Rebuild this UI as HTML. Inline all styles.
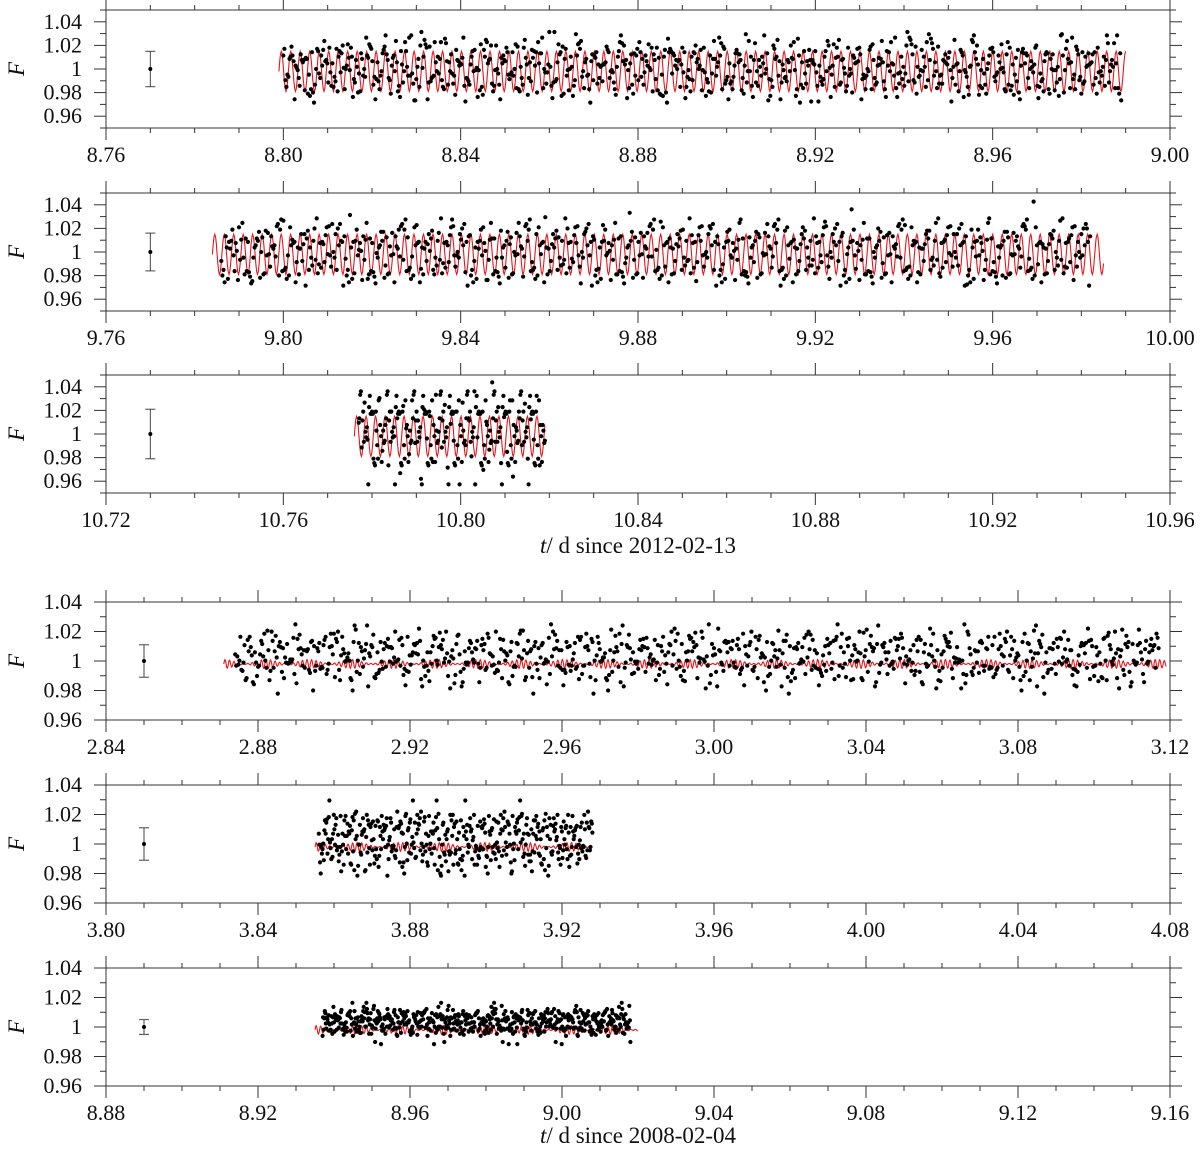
<!DOCTYPE html>
<html><head><meta charset="utf-8"><style>
html,body{margin:0;padding:0;background:#fff}
svg{display:block}
svg text{font-family:"Liberation Serif","Times New Roman",serif}
</style></head><body>
<svg id="fig" width="1200" height="1161" viewBox="0 0 1200 1161"></svg>
<script>
// ---- data ----
const xStarts = [8.76, 9.76, 10.72, 2.84, 3.80, 8.88];
const xTickLabels = [
 ["8.76","8.80","8.84","8.88","8.92","8.96","9.00"],
 ["9.76","9.80","9.84","9.88","9.92","9.96","10.00"],
 ["10.72","10.76","10.80","10.84","10.88","10.92","10.96"],
 ["2.84","2.88","2.92","2.96","3.00","3.04","3.08","3.12"],
 ["3.80","3.84","3.88","3.92","3.96","4.00","4.04","4.08"],
 ["8.88","8.92","8.96","9.00","9.04","9.08","9.12","9.16"]];
const yTickLabels = ["0.96","0.98","1","1.02","1.04"];
const dataStart = [8.800, 9.786, 10.777, 2.874, 3.856, 8.937];
const dataEnd   = [8.989, 9.982, 10.819, 3.117, 3.928, 9.018];
const modelStart = [8.799, 9.784, 10.776, 2.871, 3.855, 8.935];
const modelEnd   = [8.990, 9.985, 10.819, 3.119, 3.928, 9.020];
const modelAmp = [0.017, 0.017, 0.017, 0.003, 0.003, 0.003];
const modelPeriod = [0.00214, 0.00214, 0.00214, 0.0012, 0.0012, 0.0012];
const modelCenter = [0.998, 0.998, 0.998, 0.998, 0.998, 0.998];
const errX = [8.77, 9.77, 10.73, 2.85, 3.81, 8.89];
const errHalf = [0.015, 0.016, 0.021, 0.011, 0.011, 0.005];
const fluxBase = [1.0, 1.0, 1.0, 1.001, 1.001, 1.001];
const devScale = [0.95, 0.95, 0.95, 0.7, 0.75, 0.7];
// flux deviations from 1 in units of 0.001
const flux1 = [12,-5,20,3,-15,8,-22,15,0,-8,25,-12,5,18,-3,-18,10,-25,2,14,-7,22,-14,6,-2,30,-10,12,-20,4,16,-6,-28,9,1,19,-11,24,-4,-16,7,13,-23,3,28,-9,11,-1,-19,17,5,-13,21,-27,8,-5,15,-17,2,26,-8,10,-21,14,-3,33,-12,6,-24,18,0,-15,22,-7,9,-30,12,4,-11,20,-2,-18,16,7,-26,13,-6,24,-14,3,19,-9,-22,11,27,-4,8,-16,15,-1,-10,6,17,-3,-20,9,2,23,-13,5,-7,14,-19,31,-2,8,-15,11,0,-24,18,-6,4,-11,21,-1,12,-17,7,-29,16,3,-9,25,-5,10,-14,1,19,-21,6,13,-8,-2,22,-12,9,-18,15,4,-25,11,-4,28,-10,2,17,-16,8,-6,20,-13,5,-1,26,-20,12,-7,3,15,-23,9,0,18,-11,6,-3,24,-15,10,-27,14,-8,2,21,-4,7,-18,13,-12,30,-1,5,-9,17,-22,11,4,-14,19,-6,8,-2,23,-17];
const flux2 = [-8,14,3,-17,22,-5,9,-26,12,0,19,-13,6,-21,28,-3,11,-9,16,-30,4,21,-11,7,-2,25,-16,10,-6,33,-19,2,14,-24,8,-1,18,-12,5,-27,20,-7,13,-4,24,-15,9,1,-20,17,-10,6,29,-3,11,-18,15,-8,3,22,-25,12,-5,19,-14,7,0,26,-22,10,-9,16,-2,31,-17,4,13,-11,21,-6,8,-28,18,-3,11,-15,24,-1,6,-20,14,-10,35,-7,9,-23,17,-4,2,27,-13,12,-19,5,20,-8,15,-26,10,-2,23,-16,7,-11,18,-5,3,29,-21,13,-9,16,-1,25,-14,8,-30,19,-6,11,-17,22,4,-12,14,-3,27,-24,9,-8,17,-2,38,-15,6,-20,12,0,21,-10,15,-27,7,-5,24,-13,10,-18,3,19,-7,26,-22,11,-1,16,-12,8,-29,20,-4,13,-16,30,-9,5,-21,18,-2,10,-14,23,-6,45,-11,7,-19,15,0,28,-13,12,-25,9,-3,21];
const flux3 = [10,-12,28,-5,18,-22,3,32,-15,8,-28,20,-2,14,-35,25,5,-18,30,-8,12,-40,22,-4,16,-25,35,2,-12,26,-30,9,-6,20,-45,28,-10,14,-20,38,-3,18,-32,11,-14,46,-7,24,-26,15,-16,30,-38,6,20,-10,27,-22,13,-5,34,-28,8];
const flux4 = [5,22,-20,12,-3,18,-8,27,2,-12,15,0,20,-6,10,-30,8,14,-4,25,-10,6,-1,33,-14,9,3,-18,17,-7,12,-2,21,-11,4,16,-26,7,13,-5,19,-16,1,24,-9,11,-3,-22,15,6,-13,20,-1,8,-7,28,-17,10,-4,14,-24,3,18,-10,12,0,22,-6,9,-33,16,2,-15,7,25,-8,11,-2,19,-12,5,-20,13,-4,27,-9,15,-1,8,-18,21,-6,4,30,-11,17,-3,10,-25,14,-7,23,2,-14,9,-5,18,-21,12,0,24,-10,6,-16,20,-3,34,-8,13,-19,7,26,-2,11,-13,16,-6,21,1,-23,9,-11,19,-4,14,-28,5,17,-9,12,-1,27,-15,8,-6,22,-17,10,3,-12,18,-7,25,-20,6,15,-3,11,-14,20,-2,9,-26,16,-8,13,4,-18,23,-5,10,-10,17,-1,29,-22,7,14];
const flux5 = [8,-10,20,3,-15,12,-4,24,-20,6,15,-8,28,-2,10,-25,16,2,-12,19,-6,11,-30,22,-3,14,-18,8,26,-9,5,-14,17,-1,23,-21,10,-5,13,-28,18,3,-11,25,-7,9,-16,38,-2,12,-20,15,-4,21,-13,7,-9,19,-22,11,0,16,-26,14,-6,24,-10,8,-17,20,3,-12,13,-5,22,-8,17,-15,10,-2,25,-11,6,-19,14,-4,18,-7];
const flux6 = [-10,12,3,-4,18,6,-2,15,1,-6,9,22,-3,8,4,14,-1,7,-8,19,2,11,-5,6,16,0,-4,10,3,-7,13,1,5,-3,9,-9,4,12,-2,7,-5,3,11,-1,6,-16,8,2,-4,10,5,-2,14,1,-6,8,3,12,-3,6,-8,9,2,-1,16,4,-5,11,7,-2,13,3,-18,8,5,-4,10,1,12,-3,7,2,-6,14,4,-1,9,6,-3,11,-10,5,8,-2,13,3,-5,7,10,-1,6,-9,12,2,4,-4,9,15,-2,7,1,-7,11,3];
const fluxAll = [flux1, flux2, flux3, flux4, flux5, flux6];
const passes = [4, 4, 4, 5, 5, 5];

// ---- layout ----
const panelTop = [10, 193, 375, 602, 785, 968];
const panelH = 118;
const L = 106, R = 1170;
const FONT = '"Liberation Serif", "Times New Roman", serif';
const svg = document.getElementById('fig');
const NS = 'http://www.w3.org/2000/svg';
function mk(tag, attrs, parent) {
  const e = document.createElementNS(NS, tag);
  for (const k in attrs) e.setAttribute(k, attrs[k]);
  (parent || svg).appendChild(e);
  return e;
}
for (let p = 0; p < 6; p++) {
  const g = mk('g', {});
  
  
  const top = panelTop[p], bot = top + panelH;
  const upper = p < 3;
  const yMin = upper ? 0.95 : 0.96, yMax = upper ? 1.05 : 1.04;
  const x0 = xStarts[p], x1 = x0 + 0.24 + (upper ? 0 : 0.04);
  const sx = v => L + (v - x0) / (x1 - x0) * (R - L);
  const sy = v => bot - (v - yMin) / (yMax - yMin) * panelH;
  const ax = mk('g', {stroke: '#333', 'stroke-width': 1, fill: 'none'}, g);
  
  
  mk('rect', {x: L, y: top, width: R - L, height: panelH}, ax);
  const nMinor = Math.round((x1 - x0) / 0.01);
  for (let i = 0; i <= nMinor; i++) {
    const x = L + i / nMinor * (R - L);
    const major = i % 4 === 0;
    const len = major ? 12 : 5;
    mk('line', {x1: x, x2: x, y1: bot, y2: bot + len}, ax);
    mk('line', {x1: x, x2: x, y1: top, y2: top - len}, ax);
  }
  xTickLabels[p].forEach((lab, i) => {
    const t = mk('text', {x: sx(x0 + i * 0.04), y: bot + 34, 'font-size': 22, 'font-family': FONT, 'text-anchor': 'middle', fill: '#111'}, g);
    
    
    t.textContent = lab;
  });
  for (let k = 0; k <= 10; k++) {
    const v = yMin + k * 0.01;
    if (v > yMax + 1e-9) break;
    const y = sy(v);
    const major = Math.round(v * 100) % 2 === 0;
    const len = major ? 12 : 6;
    mk('line', {x1: L, x2: L - len, y1: y, y2: y}, ax);
    mk('line', {x1: R, x2: R + len, y1: y, y2: y}, ax);
  }
  yTickLabels.forEach((lab, i) => {
    const v = 0.96 + i * 0.02;
    const t = mk('text', {x: 82, y: sy(v) + 7, 'font-size': 22, 'font-family': FONT, 'text-anchor': 'end', fill: '#111'}, g);
    
    
    t.textContent = lab;
  });
  const yl = mk('text', {x: 0, y: 0, 'font-size': 23, 'font-family': FONT, 'font-style': 'italic', 'text-anchor': 'middle', fill: '#111', transform: `translate(24,${(top + bot) / 2}) rotate(-90)`}, g);
  
  
  yl.textContent = 'F';
  const ex = sx(errX[p]);
  const eb = mk('g', {stroke: '#444', 'stroke-width': 1}, g);
  
  
  mk('line', {x1: ex, x2: ex, y1: sy(1 - errHalf[p]), y2: sy(1 + errHalf[p])}, eb);
  mk('line', {x1: ex - 5, x2: ex + 5, y1: sy(1 - errHalf[p]), y2: sy(1 - errHalf[p])}, eb);
  mk('line', {x1: ex - 5, x2: ex + 5, y1: sy(1 + errHalf[p]), y2: sy(1 + errHalf[p])}, eb);
  mk('circle', {cx: ex, cy: sy(1), r: 2, fill: '#000', stroke: 'none'}, eb);
  let pts = [];
  const steps = Math.round((modelEnd[p] - modelStart[p]) / modelPeriod[p] * 12);
  for (let i = 0; i <= steps; i++) {
    const t = modelStart[p] + (modelEnd[p] - modelStart[p]) * i / steps;
    const ph = 2 * Math.PI * (t - modelStart[p]) / modelPeriod[p];
    let f;
    if (upper) f = modelCenter[p] + modelAmp[p] * Math.sin(ph);
    else f = modelCenter[p] + modelAmp[p] * Math.sin(ph) * (0.55 + 0.45 * Math.cos(ph / 9.3));
    pts.push(sx(t).toFixed(1) + ',' + sy(f).toFixed(1));
  }
  const ml = mk('polyline', {points: pts.join(' '), fill: 'none', stroke: '#e8161b', 'stroke-width': 1.1}, g);
  
  
  const fl = fluxAll[p];
  const n = fl.length, np = passes[p], total = n * np;
  const dg = mk('g', {fill: '#000'}, g);
  
  
  for (let j = 0; j < np; j++) {
    fl.forEach((d, i) => {
      const k = (i * np + j);
      const t = dataStart[p] + (dataEnd[p] - dataStart[p]) * k / (total - 1);
      const val = j === 0 ? d : fl[(i * 7 + j * 13) % n];
      const f = fluxBase[p] + devScale[p] * val / 1000;
      const c = mk('circle', {cx: sx(t).toFixed(1), cy: sy(f).toFixed(1), r: 2.1}, dg);
      
      
    });
  }
}
[[553, 't', '/ d since 2012-02-13', 'x-axis-title-2012'], [1143, 't', '/ d since 2008-02-04', 'x-axis-title-2008']].forEach(a => {
  const t = mk('text', {x: 638, y: a[0], 'font-size': 23, 'font-family': FONT, 'text-anchor': 'middle', fill: '#111'});
  
  
  const s = mk('tspan', {'font-style': 'italic'}, t);
  s.textContent = a[1];
  const s2 = mk('tspan', {}, t);
  s2.textContent = a[2];
});
</script>
</body></html>
